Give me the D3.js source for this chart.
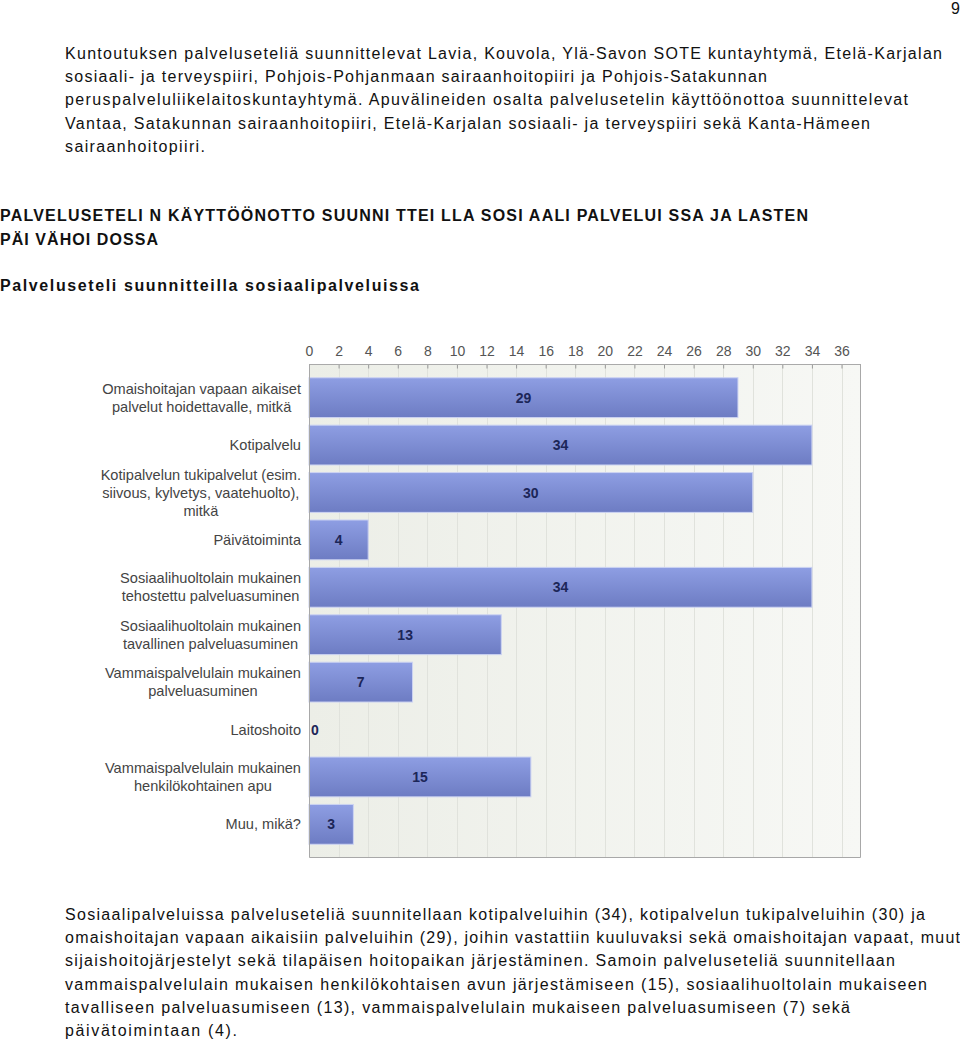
<!DOCTYPE html>
<html><head><meta charset="utf-8">
<script src="https://cdn.jsdelivr.net/npm/d3@7"></script>
<style>html,body{margin:0;padding:0;background:#fff;}svg{display:block;}</style>
</head><body>
<script>
// ---- data ----
const categories = [
  ["Omaishoitajan vapaan aikaiset", "palvelut hoidettavalle, mitkä"],
  ["Kotipalvelu"],
  ["Kotipalvelun tukipalvelut (esim.", "siivous, kylvetys, vaatehuolto),", "mitkä"],
  ["Päivätoiminta"],
  ["Sosiaalihuoltolain mukainen", "tehostettu palveluasuminen"],
  ["Sosiaalihuoltolain mukainen", "tavallinen palveluasuminen"],
  ["Vammaispalvelulain mukainen", "palveluasuminen"],
  ["Laitoshoito"],
  ["Vammaispalvelulain mukainen", "henkilökohtainen apu"],
  ["Muu, mikä?"]
];
const values = [29, 34, 30, 4, 34, 13, 7, 0, 15, 3];
const tickValues = [0,2,4,6,8,10,12,14,16,18,20,22,24,26,28,30,32,34,36];

const introLines = [
  "Kuntoutuksen palveluseteliä suunnittelevat Lavia, Kouvola, Ylä-Savon SOTE kuntayhtymä, Etelä-Karjalan",
  "sosiaali- ja terveyspiiri, Pohjois-Pohjanmaan sairaanhoitopiiri ja Pohjois-Satakunnan",
  "peruspalveluliikelaitoskuntayhtymä. Apuvälineiden osalta palvelusetelin käyttöönottoa suunnittelevat",
  "Vantaa, Satakunnan sairaanhoitopiiri, Etelä-Karjalan sosiaali- ja terveyspiiri sekä Kanta-Hämeen",
  "sairaanhoitopiiri."
];
const headingLines = [
  "PALVELUSETELI N KÄYTTÖÖNOTTO SUUNNI TTEI LLA SOSI AALI PALVELUI SSA JA LASTEN",
  "PÄI VÄHOI DOSSA"
];
const subheading = "Palveluseteli suunnitteilla sosiaalipalveluissa";
const outroLines = [
  "Sosiaalipalveluissa palveluseteliä suunnitellaan kotipalveluihin (34), kotipalvelun tukipalveluihin (30) ja",
  "omaishoitajan vapaan aikaisiin palveluihin (29), joihin vastattiin kuuluvaksi sekä omaishoitajan vapaat, muut",
  "sijaishoitojärjestelyt sekä tilapäisen hoitopaikan järjestäminen. Samoin palveluseteliä suunnitellaan",
  "vammaispalvelulain mukaisen henkilökohtaisen avun järjestämiseen (15), sosiaalihuoltolain mukaiseen",
  "tavalliseen palveluasumiseen (13), vammaispalvelulain mukaiseen palveluasumiseen (7) sekä",
  "päivätoimintaan (4)."
];
const pageNumber = "9";

// ---- layout ----
const W = 960, H = 1041;
const svg = d3.select("body").append("svg").attr("width", W).attr("height", H);
const FONT = "'Liberation Sans', Arial, sans-serif";

function textBlock(lines, x, y0, lh, widths, opts) {
  lines.forEach((t, i) => {
    const el = svg.append("text")
      .attr("x", x).attr("y", y0 + i * lh)
      .attr("font-family", FONT)
      .attr("font-size", opts.size)
      .attr("font-weight", opts.weight || "normal")
      .attr("fill", opts.fill || "#111")
      .text(t);
    if (widths && widths[i]) el.attr("textLength", widths[i]).attr("lengthAdjust", "spacing");
  });
}

svg.append("text").attr("x", 951).attr("y", 14).attr("font-family", FONT)
  .attr("font-size", 16).attr("fill", "#111").text(pageNumber);

textBlock(introLines, 65, 59, 23.2, [877, 702, 843, 805, 140], {size: 16});
textBlock(headingLines, 0, 221, 24, [808, 158], {size: 16, weight: "bold"});
textBlock([subheading], 0, 291, 0, [419], {size: 16, weight: "bold"});
textBlock(outroLines, 65, 920, 23.2, [860, 895, 830, 862, 785, 172], {size: 16});

// ---- chart ----
const plot = {left: 309, right: 861, top: 364, bottom: 858};
const x = d3.scaleLinear().domain([0, 36]).range([plot.left, 841.5]);
const y = d3.scaleBand().domain(d3.range(categories.length))
  .range([plot.top, plot.bottom]).paddingInner(0.16).paddingOuter(0.29);

const defs = svg.append("defs");
const bg = defs.append("linearGradient").attr("id", "bg").attr("x1", 0).attr("x2", 1).attr("y1", 0).attr("y2", 0);
bg.append("stop").attr("offset", 0).attr("stop-color", "#eceee7");
bg.append("stop").attr("offset", 1).attr("stop-color", "#f7f8f5");
const bg2 = defs.append("linearGradient").attr("id", "bar").attr("x1", 0).attr("x2", 0).attr("y1", 0).attr("y2", 1);
bg2.append("stop").attr("offset", 0).attr("stop-color", "#8e9ee3");
bg2.append("stop").attr("offset", 1).attr("stop-color", "#6d7cc3");

svg.append("rect").attr("x", plot.left).attr("y", plot.top)
  .attr("width", plot.right - plot.left).attr("height", plot.bottom - plot.top)
  .attr("fill", "url(#bg)");

// gridlines
svg.append("g").selectAll("line").data(tickValues.concat([38]).filter(d => x(d) < plot.right && d > 0))
  .join("line")
  .attr("x1", d => Math.round(x(d)) + 0.5).attr("x2", d => Math.round(x(d)) + 0.5)
  .attr("y1", plot.top).attr("y2", plot.bottom)
  .attr("stroke", "#e0e2dc").attr("stroke-width", 1);

// top axis
const axis = svg.append("g").attr("transform", `translate(0,${plot.top + 0.5})`)
  .call(d3.axisTop(x).tickValues(tickValues).tickSizeInner(-4).tickSizeOuter(0).tickPadding(9));
axis.select(".domain").remove();
axis.selectAll(".tick line").attr("stroke", "#999");
axis.selectAll(".tick text").attr("font-family", FONT).attr("font-size", 14).attr("fill", "#555");
svg.append("line").attr("x1", plot.left).attr("x2", plot.right)
  .attr("y1", plot.top + 0.5).attr("y2", plot.top + 0.5).attr("stroke", "#aaa");

// bars
svg.append("g").selectAll("rect").data(values).join("rect")
  .attr("x", x(0)).attr("y", (d, i) => y(i))
  .attr("width", d => x(d) - x(0)).attr("height", y.bandwidth())
  .attr("fill", "url(#bar)")
  .attr("stroke", "#ccd3f2").attr("stroke-width", d => d > 0 ? 1 : 0);

// value labels
svg.append("g").selectAll("text").data(values).join("text")
  .attr("x", d => d === 0 ? x(0) + 2 : (x(0) + x(d)) / 2)
  .attr("y", (d, i) => y(i) + y.bandwidth() / 2)
  .attr("dy", "0.36em")
  .attr("text-anchor", d => d === 0 ? "start" : "middle")
  .attr("font-family", FONT).attr("font-size", 14).attr("font-weight", "bold")
  .attr("fill", "#1c2658")
  .text(d => d);

// frame
svg.append("path")
  .attr("d", `M${plot.left + 0.5},${plot.top} V${plot.bottom - 0.5} H${plot.right - 0.5} V${plot.top}`)
  .attr("fill", "none").attr("stroke", "#a8a8a8");

// category labels
const lh = 18;
const labelRight = 301;
categories.forEach((lines, i) => {
  const g = svg.append("g");
  const cy = y(i) + y.bandwidth() / 2;
  const texts = lines.map((t, j) => g.append("text")
    .attr("y", cy + (j - (lines.length - 1) / 2) * lh)
    .attr("dy", "0.35em")
    .attr("text-anchor", "middle")
    .attr("font-family", FONT).attr("font-size", 14.6).attr("fill", "#444")
    .text(t));
  const maxW = d3.max(texts, t => t.node().getComputedTextLength());
  texts.forEach(t => t.attr("x", labelRight - maxW / 2));
});
</script>
</body></html>
